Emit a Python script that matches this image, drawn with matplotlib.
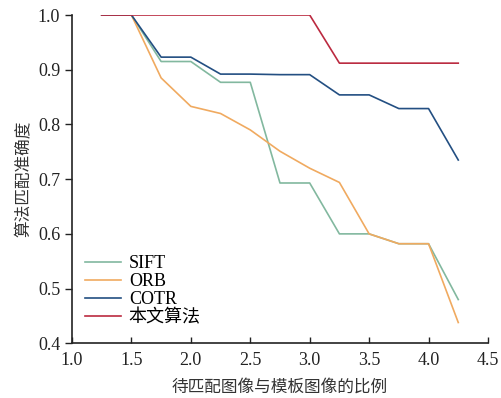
import matplotlib
matplotlib.use("Agg")
import matplotlib.pyplot as plt

plt.rcParams["font.family"] = ["Liberation Serif", "Noto Sans CJK SC"]

ratios = [1.25, 1.5, 1.75, 2.0, 2.25, 2.5, 2.75, 3.0, 3.25, 3.5, 3.75, 4.0, 4.25]
sift = [1.0, 1.0, 0.915, 0.915, 0.877, 0.877, 0.693, 0.693, 0.600, 0.600, 0.582, 0.582, 0.480]
orb = [1.0, 1.0, 0.885, 0.833, 0.820, 0.790, 0.751, 0.720, 0.694, 0.600, 0.582, 0.582, 0.438]
cotr = [1.0, 1.0, 0.923, 0.923, 0.892, 0.892, 0.891, 0.891, 0.854, 0.854, 0.829, 0.829, 0.735]
ours = [1.0, 1.0, 1.0, 1.0, 1.0, 1.0, 1.0, 1.0, 0.912, 0.912, 0.912, 0.912, 0.912]

series = [
    ("SIFT", sift, "#82b89f"),
    ("ORB", orb, "#f0aa60"),
    ("COTR", cotr, "#234f82"),
    ("本文算法", ours, "#bb2a40"),
]

fig = plt.figure(figsize=(5.01, 3.98), dpi=100)
ax = fig.add_axes([0.1437, 0.1374, 0.8303, 0.8249])

for name, vals, col in series:
    ax.plot(ratios, vals, color=col, lw=1.2, label=name)

ax.set_xlim(1.0, 4.5)
ax.set_ylim(0.4, 1.0)
ax.set_xticks([1.0, 1.5, 2.0, 2.5, 3.0, 3.5, 4.0, 4.5])
ax.set_yticks([0.4, 0.5, 0.6, 0.7, 0.8, 0.9, 1.0])
ax.spines["top"].set_visible(False)
ax.spines["right"].set_visible(False)
for s in ("left", "bottom"):
    ax.spines[s].set_linewidth(1.2)
    ax.spines[s].set_color("#222222")
ax.tick_params(axis="y", direction="out", length=5, width=1, labelsize=13, colors="#222222")
ax.tick_params(axis="x", direction="in", length=4, width=1, labelsize=13, colors="#222222", pad=6)

ax.set_xlabel("待匹配图像与模板图像的比例", fontsize=12, color="#333333", labelpad=8)
ax.set_ylabel("算法匹配准确度", fontsize=12, color="#333333", labelpad=4)

ax.legend(loc="lower left", bbox_to_anchor=(0.0, 0.012), frameon=False, fontsize=13,
          handlelength=2.0, handletextpad=0.45, labelspacing=0.06, borderaxespad=0.3)

fig.savefig("out.png", dpi=100)
